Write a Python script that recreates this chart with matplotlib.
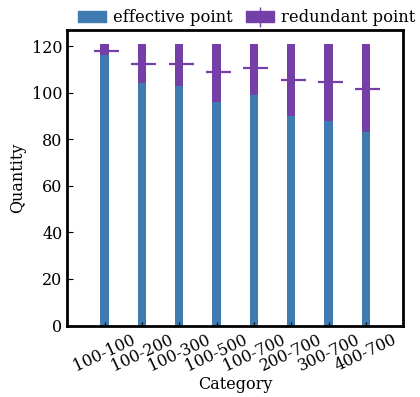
import matplotlib
matplotlib.use("Agg")
import matplotlib.pyplot as plt
import numpy as np
from matplotlib.lines import Line2D

categories = ["100-100", "100-200", "100-300", "100-500", "100-700", "200-700", "300-700", "400-700"]
effective = [116, 104, 103, 96, 99, 90, 88, 83]
total = [121, 121, 121, 121, 121, 121, 121, 121]
mark = [118, 112.5, 112.5, 109, 110.5, 105.5, 104.5, 101.5]

BLUE = "#3f7bb0"
PURPLE = "#7440a8"

plt.rcParams["font.family"] = ["DejaVu Serif"]


def main():
    fig = plt.figure(figsize=(4.2, 3.97), dpi=100)
    ax = fig.add_axes([0.16, 0.18, 0.8, 0.745])

    x = np.arange(len(categories))
    redundant = [t - e for t, e in zip(total, effective)]

    ax.bar(x, effective, width=0.22, color=BLUE)
    ax.bar(x, redundant, width=0.22, bottom=effective, color=PURPLE)
    # horizontal marks inside the redundant bars
    ax.plot(x + 0.04, mark, linestyle="None", marker="_", markersize=18,
            markeredgewidth=1.6, color=PURPLE)

    ax.set_xlim(-1, 8)
    ax.set_ylim(0, 127)
    ax.set_yticks(range(0, 121, 20))
    ax.set_xticks(x)
    ax.set_xticklabels(categories, rotation=25, ha="center")
    ax.tick_params(direction="in", labelsize=11.5, length=4)
    ax.tick_params(axis="x", length=3, pad=4)
    for s in ax.spines.values():
        s.set_linewidth(2)

    ax.set_xlabel("Category", fontsize=11.5, labelpad=1)
    ax.set_ylabel("Quantity", fontsize=11.5)

    h1 = plt.Rectangle((0, 0), 1, 1, color=BLUE)
    h2 = (plt.Rectangle((0, 0), 1, 1, color=PURPLE),
          Line2D([], [], color=PURPLE, marker="|", markersize=15, linestyle="None"))
    fig.legend([h1, h2], ["effective point", "redundant point"], ncol=2, frameon=False,
               loc="center left", bbox_to_anchor=(0.185, 0.955), fontsize=11.8,
               handlelength=1.7, handleheight=0.6, columnspacing=0.8, handletextpad=0.45,
               borderaxespad=0, borderpad=0)

    fig.savefig("out.png", dpi=100)


if __name__ == "__main__":
    main()
